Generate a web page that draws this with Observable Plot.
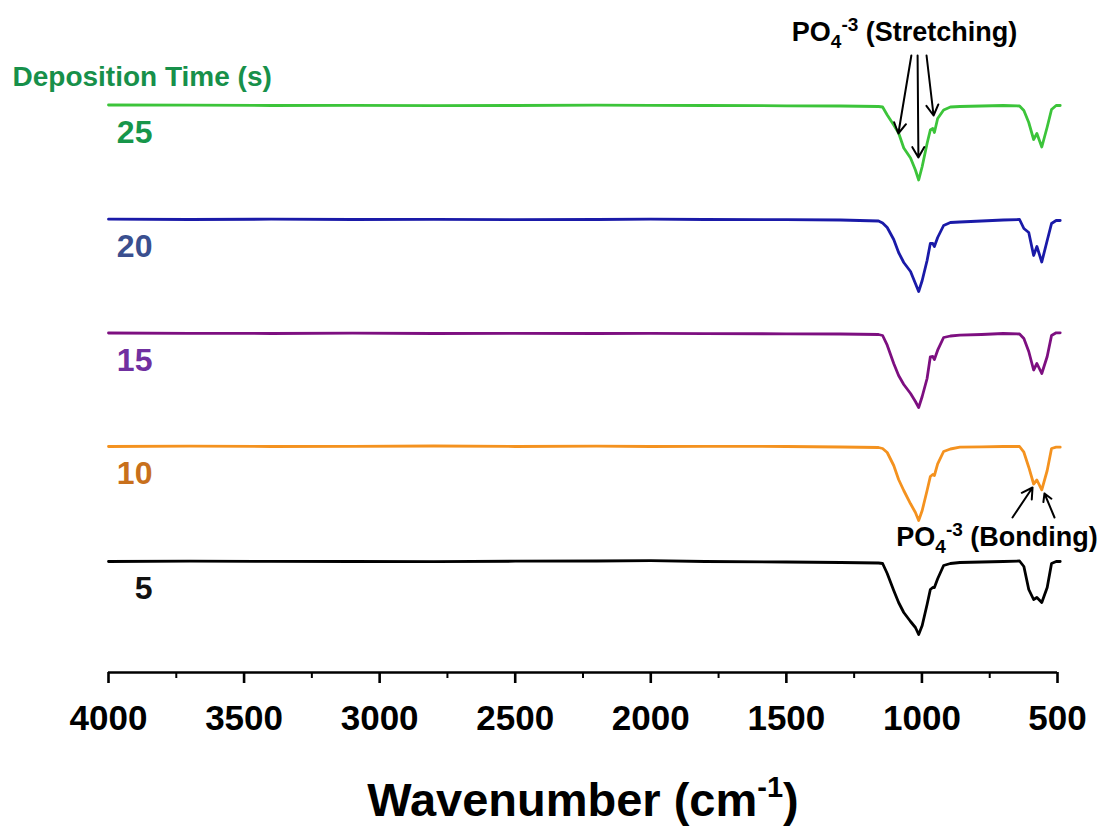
<!DOCTYPE html>
<html>
<head>
<meta charset="utf-8">
<script src="https://cdn.jsdelivr.net/npm/d3@7"></script>
<script src="https://cdn.jsdelivr.net/npm/@observablehq/plot@0.6"></script>
<style>
  html, body { margin: 0; padding: 0; background: #fff; }
</style>
</head>
<body>
<div id="chart"></div>
<script>
// Wavenumber grid (cm^-1)
const wavenumbers = [4000, 3700, 3400, 3100, 2800, 2500, 2200, 2000, 1800, 1500, 1300,
  1160, 1145, 1128, 1104, 1086, 1067, 1042, 1024, 1012, 999, 981, 969, 960, 954, 942,
  920, 895, 860, 780, 700, 640, 624, 606, 588, 576, 558, 538, 522, 505, 490];

// Relative transmittance (a.u.) for each deposition time
const t25 = [0.5, 0.3, 0, 0.2, -0.2, 0, 0.3, 0.2, 0, -0.3, -0.5,
  -1, -1.5, -9.5, -19.5, -27.5, -42.5, -52.5, -64.5, -74.5, -61, -38, -24.5, -23, -27, -13,
  -4.5, -1.5, -1, -0.5, 0, -0.5, -5, -17, -34, -28, -41.5, -21.5, -4, 0, 0];
const t20 = [0.3, 0, 0.3, 0, 0.2, -0.2, 0, 0.3, 0, -0.2, -0.5,
  -1.5, -3.5, -8, -20, -33, -43, -52, -64, -72, -61, -41, -24, -24, -27, -18,
  -6, -3, -2.5, -1.5, -0.5, 0, -9, -13, -36, -27, -42.5, -21, -4, -1, -1];
const t15 = [0.5, 0.2, 0, 0.3, 0, 0.2, 0, 0.2, -0.2, -0.3, -0.5,
  -1, -2, -11.7, -30, -42, -51, -60, -68, -74, -63, -45, -23.3, -23, -26, -16.7,
  -4, -2.5, -1.7, -1, 0, -0.5, -5, -18, -36.5, -30, -40, -23, -2, 0.7, 0.7];
const t10 = [0, 0.3, 0, 0.2, 0.5, 0, 0.3, 0, 0.2, 0, -0.5,
  -1, -2, -6, -19, -33, -44, -57.3, -66, -74, -64, -44, -30, -28, -29, -17.3,
  -5, -2.5, -0.7, -0.3, 0, 0, -5.7, -20.7, -37.5, -33.5, -43.3, -24, -2, -0.7, -0.7];
const t5 = [0, 0.3, 0.2, 0, -0.2, 0.3, 0.5, 0.8, 0, -0.5, -1,
  -1.5, -2, -12, -29, -41, -51, -60, -66, -73, -64, -43, -28, -26, -26, -17.3,
  -4, -2, -1, -0.5, 0, 0.5, -5, -28, -38, -36, -41, -26, -2, 0, 0];

const seriesNames = ["25", "20", "15", "10", "5"];
const seriesValues = [t25, t20, t15, t10, t5];
const offsets = [567, 453, 339, 226, 111];
const lineColors = ["#3cc43a", "#1a1aa8", "#7d0f80", "#f4921f", "#000000"];
const labelColors = ["#17964a", "#3a4f8f", "#7030a0", "#c8701c", "#111111"];

const majorTicks = [4000, 3500, 3000, 2500, 2000, 1500, 1000, 500];
const minorTicks = [3750, 3250, 2750, 2250, 1750, 1250, 750];

const legendTitle = "Deposition Time (s)";
const axisTitle = "Wavenumber (cm-1)";

// annotation arrows (wavenumber, a.u.)
const stretchArrows = [
  {x1: 1039, y1: 617, x2: 1087, y2: 539},
  {x1: 1016, y1: 617, x2: 1013, y2: 515},
  {x1: 983, y1: 617, x2: 957, y2: 557}
];
const bondArrows = [
  {x1: 666, y1: 155, x2: 592, y2: 185},
  {x1: 511, y1: 155, x2: 548, y2: 179}
];
const annotations = [
  {x: 1064, y: 640, kind: "Stretching"},
  {x: 723, y: 135, kind: "Bonding"}
];

const font = "'Liberation Sans', Arial, Helvetica, sans-serif";

const lineMarks = seriesNames.map((name, i) => {
  const rows = wavenumbers.map((w, j) => ({w, y: offsets[i] + seriesValues[i][j]}));
  return Plot.line(rows, {x: "w", y: "y", stroke: lineColors[i], strokeWidth: 2.8, strokeLinejoin: "round"});
});

const labelMarks = seriesNames.map((name, i) =>
  Plot.text([{w: 3838, y: offsets[i] - 27, name}], {
    x: "w", y: "y", text: "name", textAnchor: "end", fill: labelColors[i],
    fontSize: 32, fontWeight: "bold"
  })
);

const chart = Plot.plot({
  width: 1106,
  height: 830,
  marginLeft: 108,
  marginRight: 49,
  marginTop: 0,
  marginBottom: 158,
  style: {fontFamily: font, background: "#fff", overflow: "visible"},
  x: {domain: [4000, 500]},
  y: {domain: [0, 672], axis: null},
  marks: [
    ...lineMarks,
    ...labelMarks,
    Plot.ruleY([0], {stroke: "#000", strokeWidth: 2.6}),
    Plot.axisX({ticks: majorTicks, tickSize: 11, tickPadding: 22, strokeWidth: 2.6,
      fontSize: 35, fontWeight: "bold", fill: "#000", tickFormat: d => String(d), label: null}),
    Plot.axisX({ticks: minorTicks, tickSize: 6, strokeWidth: 2, tickFormat: () => "", label: null}),
    Plot.text([legendTitle], {x: () => 4354, y: () => 595, text: d => d, textAnchor: "start",
      fill: "#17904a", fontSize: 28, fontWeight: "bold"}),
    Plot.arrow(stretchArrows, {x1: "x1", y1: "y1", x2: "x2", y2: "y2", stroke: "#000",
      strokeWidth: 2, headLength: 9}),
    Plot.arrow(bondArrows, {x1: "x1", y1: "y1", x2: "x2", y2: "y2", stroke: "#000",
      strokeWidth: 2, headLength: 9}),
    Plot.text(annotations, {x: "x", y: "y", text: "kind", fill: "#000", fontSize: 27,
      fontWeight: "bold", className: "chem"}),
    Plot.text([axisTitle], {frameAnchor: "bottom", dy: 143, lineAnchor: "bottom", text: d => d,
      fontSize: 47, fontWeight: "bold", fill: "#000", className: "xtitle"})
  ]
});

// chemical formula sub/superscripts
d3.select(chart).selectAll("g.chem text").each(function () {
  const t = d3.select(this);
  const kind = t.text();
  t.text("");
  t.append("tspan").text("PO");
  t.append("tspan").attr("dy", 7).attr("font-size", 19).text("4");
  t.append("tspan").attr("dy", -17).attr("font-size", 19).text("-3");
  t.append("tspan").attr("dy", 10).text(" (" + kind + ")");
});
d3.select(chart).selectAll("g.xtitle text").each(function () {
  const t = d3.select(this);
  t.text("");
  t.append("tspan").text("Wavenumber (cm");
  t.append("tspan").attr("dy", -19).attr("font-size", 29).text("-1");
  t.append("tspan").attr("dy", 19).text(")");
});

document.getElementById("chart").appendChild(chart);
</script>
</body>
</html>
